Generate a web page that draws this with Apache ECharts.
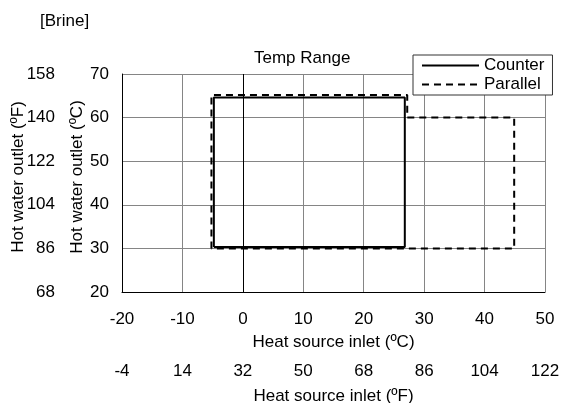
<!DOCTYPE html>
<html>
<head>
<meta charset="utf-8">
<script src="https://cdn.jsdelivr.net/npm/echarts@6/dist/echarts.min.js"></script>
<style>
  html, body { margin: 0; padding: 0; background: #fff; }
  #chart { width: 567px; height: 403px; }
</style>
</head>
<body>
<div id="chart"></div>
<script>
// Данные
const xTicksF = ['-4', '14', '32', '50', '68', '86', '104', '122'];
const yTicksF = ['68', '86', '104', '122', '140', '158'];

const counterX = [-4.8, -4.8, 26.8, 26.8, -4.8];
const counterY = [30.3, 64.6, 64.6, 30.3, 30.3];

const parallelX = [-5.2, -5.2, 27.2, 27.2, 44.9, 44.9, -5.2];
const parallelY = [30, 65.2, 65.2, 60, 60, 30, 30];

const FONT = "'Liberation Sans', Arial, sans-serif";
const FS = 17;

function pairs(xs, ys) {
    return xs.map(function (x, i) {
        return [x, ys[i]];
    });
}

const chart = echarts.init(document.getElementById('chart'), null, { renderer: 'canvas' });

const textBase = { fontFamily: FONT, fontSize: FS, color: '#000' };
// подписи осей Y чуть выше центра
const yNameStyle = { fontFamily: FONT, fontSize: FS, color: '#000', padding: [0, 0, 0, 12] };

const option = {
    backgroundColor: '#fff',
    animation: false,
    textStyle: textBase,
    title: [
        {
            text: '[Brine]',
            left: 40,
            top: 13,
            padding: 0,
            textStyle: { fontFamily: FONT, fontSize: FS, fontWeight: 'normal', color: '#000' }
        },
        {
            text: 'Temp Range',
            left: 254,
            top: 50,
            padding: 0,
            textStyle: { fontFamily: FONT, fontSize: FS, fontWeight: 'normal', color: '#000' }
        }
    ],
    legend: {
        orient: 'vertical',
        left: 413,
        top: 55,
        padding: [2, 8, 2, 8],
        itemGap: 2,
        itemWidth: 57,
        itemHeight: 14,
        itemTextGap: 6,
        backgroundColor: '#fff',
        borderColor: '#333',
        borderWidth: 1,
        borderRadius: 0,
        itemStyle: { opacity: 0 },
        textStyle: { fontFamily: FONT, fontSize: FS, color: '#000', lineHeight: 17 },
        data: ['Counter', 'Parallel']
    },
    grid: {
        left: 122,
        right: 22,
        top: 74,
        bottom: 111,
        containLabel: false,
        outerBoundsMode: 'none'
    },
    xAxis: [
        {
            type: 'value',
            min: -20,
            max: 50,
            interval: 10,
            position: 'bottom',
            name: 'Heat source inlet (ºC)',
            nameLocation: 'middle',
            nameGap: 42,
            nameMoveOverlap: false,
            nameTextStyle: textBase,
            axisLine: { show: true, onZero: false, lineStyle: { color: '#000', width: 1 } },
            axisTick: { show: false },
            axisLabel: { margin: 19, fontFamily: FONT, fontSize: FS, color: '#000' },
            splitLine: { show: true, lineStyle: { color: '#858585', width: 1 } }
        },
        {
            type: 'value',
            min: -20,
            max: 50,
            interval: 10,
            position: 'bottom',
            offset: 52,
            name: 'Heat source inlet (ºF)',
            nameLocation: 'middle',
            nameGap: 44,
            nameMoveOverlap: false,
            nameTextStyle: textBase,
            axisLine: { show: false },
            axisTick: { show: false },
            axisLabel: {
                margin: 19,
                fontFamily: FONT,
                fontSize: FS,
                color: '#000',
                formatter: function (v) {
                    return xTicksF[Math.round((v + 20) / 10)];
                }
            },
            splitLine: { show: false }
        }
    ],
    yAxis: [
        {
            type: 'value',
            min: 20,
            max: 70,
            interval: 10,
            position: 'left',
            name: 'Hot water outlet (ºC)',
            nameLocation: 'middle',
            nameGap: 36,
            nameMoveOverlap: false,
            nameTextStyle: yNameStyle,
            axisLine: { show: true, onZero: false, lineStyle: { color: '#000', width: 1 } },
            axisTick: { show: false },
            axisLabel: { margin: 13, fontFamily: FONT, fontSize: FS, color: '#000' },
            splitLine: { show: true, lineStyle: { color: '#858585', width: 1 } }
        },
        {
            type: 'value',
            min: 20,
            max: 70,
            interval: 10,
            position: 'left',
            offset: 54,
            name: 'Hot water outlet (ºF)',
            nameLocation: 'middle',
            nameGap: 41,
            nameMoveOverlap: false,
            nameTextStyle: yNameStyle,
            axisLine: { show: false },
            axisTick: { show: false },
            axisLabel: {
                margin: 13,
                fontFamily: FONT,
                fontSize: FS,
                color: '#000',
                formatter: function (v) {
                    return yTicksF[Math.round((v - 20) / 10)];
                }
            },
            splitLine: { show: false }
        }
    ],
    series: [
        {
            name: 'Counter',
            type: 'line',
            xAxisIndex: 0,
            yAxisIndex: 0,
            data: pairs(counterX, counterY),
            symbol: 'none',
            lineStyle: { color: '#000', width: 2, type: 'solid' },
            itemStyle: { color: '#000' },
            z: 3,
            // чёрная вертикаль на 0 ºC
            markLine: {
                silent: true,
                symbol: 'none',
                label: { show: false },
                lineStyle: { color: '#000', width: 1, type: 'solid' },
                data: [{ xAxis: 0 }]
            }
        },
        {
            name: 'Parallel',
            type: 'line',
            xAxisIndex: 0,
            yAxisIndex: 0,
            data: pairs(parallelX, parallelY),
            symbol: 'none',
            lineStyle: { color: '#000', width: 2, type: [7, 5] },
            itemStyle: { color: '#000' },
            z: 4
        }
    ]
};

chart.setOption(option);
</script>
</body>
</html>
